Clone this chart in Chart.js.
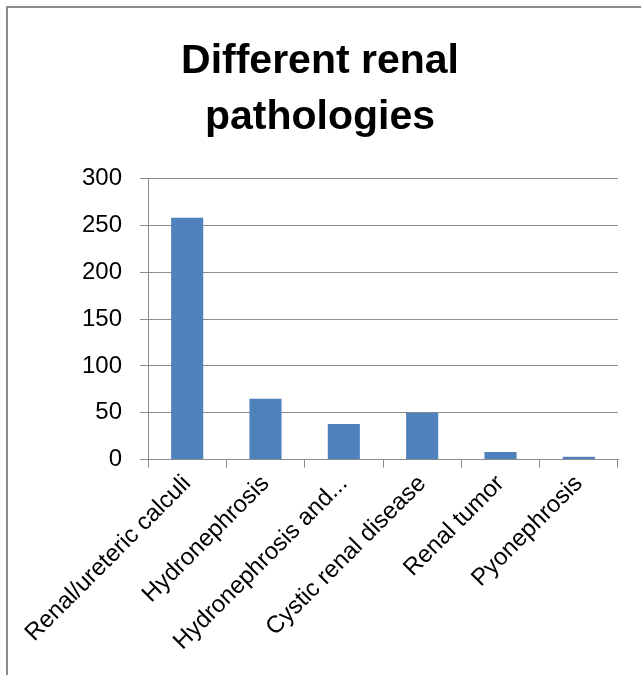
<!DOCTYPE html>
<html>
<head>
<meta charset="utf-8">
<script src="https://cdn.jsdelivr.net/npm/chart.js@4.4.1/dist/chart.umd.min.js"></script>
<style>
    html, body { margin: 0; padding: 0; background: #fff; }
    #wrap { position: relative; width: 641px; height: 675px; overflow: hidden; }
    #frame { position: absolute; left: 6px; top: 6px; width: 700px; height: 700px; border: 2px solid #8c8c8c; }
    #chart { position: absolute; left: 0; top: 0; }
</style>
</head>
<body>
<div id="wrap">
    <div id="frame"></div>
    <canvas id="chart" width="641" height="675"></canvas>
</div>
<script>
var categories = ["Renal/ureteric calculi", "Hydronephrosis", "Hydronephrosis and...", "Cystic renal disease", "Renal tumor", "Pyonephrosis"];
var counts = [258, 65, 38, 50, 8, 3];
var titleLines = ["Different renal", "pathologies"];
var yMin = 0, yMax = 300, yStep = 50;

var FONT = "'Liberation Sans', 'Noto Sans', sans-serif";
var GRID = "#8c8c8c";

var ctx = document.getElementById("chart").getContext("2d");
new Chart(ctx, {
    type: 'bar',
    data: {
        labels: categories,
        datasets: [{
            data: counts,
            backgroundColor: "#4f81bd",
            borderWidth: 0,
            categoryPercentage: 1.0,
            barPercentage: 0.41
        }]
    },
    options: {
        responsive: false,
        animation: false,
        layout: { padding: { left: 22, right: 23, top: 20, bottom: 17 } },
        plugins: {
            legend: { display: false },
            tooltip: { enabled: false },
            title: {
                display: true,
                text: titleLines,
                color: "#000",
                font: { family: FONT, size: 41, weight: 'bold', lineHeight: 1.36 },
                padding: { top: 14, bottom: 33 }
            }
        },
        scales: {
            x: {
                offset: true,
                grid: { display: true, drawOnChartArea: false, drawTicks: true, tickLength: 8, color: GRID, offset: true },
                border: { display: true, color: GRID, width: 1 },
                ticks: {
                    autoSkip: false,
                    maxRotation: 45,
                    minRotation: 45,
                    color: "#000",
                    padding: 2,
                    font: { family: FONT, size: 24 }
                }
            },
            y: {
                min: yMin,
                max: yMax,
                afterFit: function (scale) { scale.width = 126; },
                grid: { color: GRID, tickLength: 8, lineWidth: 1 },
                border: { display: true, color: GRID, width: 1 },
                ticks: {
                    stepSize: yStep,
                    color: "#000",
                    padding: 18,
                    font: { family: FONT, size: 24 }
                }
            }
        }
    }
});
</script>
</body>
</html>
